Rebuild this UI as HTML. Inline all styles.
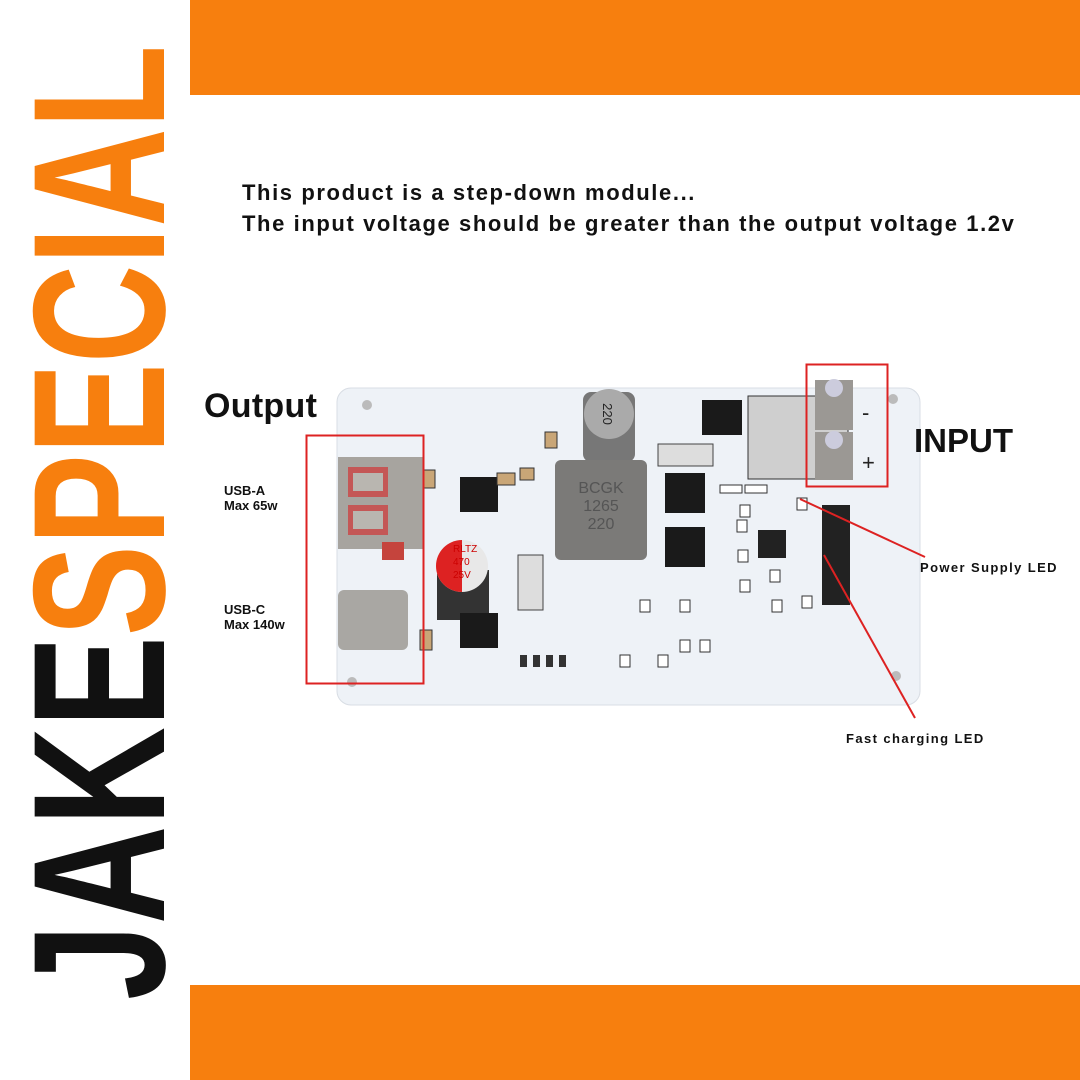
<!DOCTYPE html>
<html><head><style>
body{margin:0}
#c{position:relative;width:1080px;height:1080px;background:#fff;overflow:hidden;font-family:"Liberation Sans",sans-serif}
.a{position:absolute}
.t{font-weight:bold;color:#111;position:absolute;white-space:nowrap}
</style></head><body><div id="c">
<div class="a" style="left:190px;top:0;width:890px;height:95px;background:#f77f0e"></div>
<div class="a" style="left:190px;top:985px;width:890px;height:95px;background:#f77f0e"></div>
<svg class="a" style="left:0;top:0" width="1080" height="1080">
<text transform="translate(164,1000) rotate(-90)" font-family="Liberation Sans" font-weight="bold" font-size="188" textLength="955" lengthAdjust="spacingAndGlyphs"><tspan fill="#111">JAKE</tspan><tspan fill="#f77f0e">SPECIAL</tspan></text>
<rect x="337" y="388" width="583" height="317" rx="14" fill="#eef2f7" stroke="#d8dde4"/>
<circle cx="367" cy="405" r="5" fill="#bbb"/><circle cx="893" cy="399" r="5" fill="#bbb"/><circle cx="352" cy="682" r="5" fill="#bbb"/><circle cx="896" cy="676" r="5" fill="#bbb"/>
<rect x="338" y="457" width="85" height="92" fill="#a7a49f"/>
<rect x="348" y="467" width="40" height="30" fill="#c44" opacity=".8"/><rect x="348" y="505" width="40" height="30" fill="#c44" opacity=".8"/>
<rect x="353" y="473" width="30" height="18" fill="#b9b6b0"/><rect x="353" y="511" width="30" height="18" fill="#b9b6b0"/>
<rect x="382" y="542" width="22" height="18" fill="#c5443d"/>
<rect x="338" y="590" width="70" height="60" rx="6" fill="#a9a7a3"/>
<rect x="583" y="392" width="52" height="70" rx="8" fill="#777"/>
<circle cx="609" cy="414" r="25" fill="#aaa"/>
<text x="609" y="420" font-size="13" text-anchor="middle" fill="#222" transform="rotate(90 609 414)">220</text>
<rect x="437" y="570" width="52" height="50" fill="#333"/>
<circle cx="462" cy="566" r="26" fill="#e8e8e8"/>
<path d="M462 540 A26 26 0 0 0 462 592Z" fill="#d22"/>
<text x="453" y="552" font-size="10" fill="#c00">RLTZ</text><text x="453" y="565" font-size="10" fill="#c00">470</text><text x="453" y="578" font-size="10" fill="#c00">25V</text>
<rect x="555" y="460" width="92" height="100" rx="6" fill="#7b7a78"/>
<text x="601" y="493" font-size="16" text-anchor="middle" fill="#555">BCGK</text>
<text x="601" y="511" font-size="16" text-anchor="middle" fill="#555">1265</text>
<text x="601" y="529" font-size="16" text-anchor="middle" fill="#555">220</text>
<rect x="460" y="477" width="38" height="35" fill="#1a1a1a"/>
<rect x="460" y="613" width="38" height="35" fill="#1a1a1a"/>
<rect x="665" y="473" width="40" height="40" fill="#1a1a1a"/>
<rect x="665" y="527" width="40" height="40" fill="#1a1a1a"/>
<rect x="702" y="400" width="40" height="35" fill="#1a1a1a"/>
<rect x="758" y="530" width="28" height="28" fill="#222"/>
<rect x="748" y="396" width="100" height="83" fill="#cfcfcf" stroke="#333"/>
<rect x="815" y="380" width="38" height="50" fill="#9b9894"/><rect x="815" y="432" width="38" height="48" fill="#9b9894"/>
<circle cx="834" cy="388" r="9" fill="#ccd"/><circle cx="834" cy="440" r="9" fill="#ccd"/>
<text x="862" y="420" font-size="22" fill="#222">-</text><text x="862" y="470" font-size="22" fill="#222">+</text>
<rect x="518" y="555" width="25" height="55" fill="#ddd" stroke="#444"/>
<rect x="658" y="444" width="55" height="22" fill="#ddd" stroke="#444"/>
<rect x="822" y="505" width="28" height="100" fill="#222"/>
<g fill="#333"><rect x="520" y="655" width="7" height="12"/><rect x="533" y="655" width="7" height="12"/><rect x="546" y="655" width="7" height="12"/><rect x="559" y="655" width="7" height="12"/></g>
<g fill="#c9a677" stroke="#333"><rect x="423" y="470" width="12" height="18"/><rect x="420" y="630" width="12" height="20"/><rect x="497" y="473" width="18" height="12"/><rect x="545" y="432" width="12" height="16"/><rect x="520" y="468" width="14" height="12"/></g>
<g fill="#fff" stroke="#333"><rect x="640" y="600" width="10" height="12"/><rect x="680" y="600" width="10" height="12"/><rect x="620" y="655" width="10" height="12"/><rect x="658" y="655" width="10" height="12"/><rect x="700" y="640" width="10" height="12"/><rect x="740" y="580" width="10" height="12"/><rect x="770" y="570" width="10" height="12"/><rect x="772" y="600" width="10" height="12"/><rect x="802" y="596" width="10" height="12"/><rect x="720" y="485" width="22" height="8"/><rect x="745" y="485" width="22" height="8"/><rect x="740" y="505" width="10" height="12"/><rect x="737" y="520" width="10" height="12"/><rect x="797" y="498" width="10" height="12"/><rect x="680" y="640" width="10" height="12"/><rect x="738" y="550" width="10" height="12"/></g>
<rect x="306.5" y="435.5" width="117" height="248" fill="none" stroke="#d22" stroke-width="2"/>
<rect x="806.5" y="364.5" width="81" height="122" fill="none" stroke="#d22" stroke-width="2"/>
<line x1="800" y1="499" x2="925" y2="557" stroke="#d22" stroke-width="2"/>
<line x1="824" y1="555" x2="915" y2="718" stroke="#d22" stroke-width="2"/>
</svg>
<div class="t" style="left:242px;top:177px;font-size:22px;line-height:31px;letter-spacing:1.6px">This product is a step-down module...<br>The input voltage should be greater than the output voltage 1.2v</div>
<div class="t" style="left:204px;top:387px;font-size:34px;letter-spacing:.3px">Output</div>
<div class="t" style="left:914px;top:422px;font-size:33px">INPUT</div>
<div class="t" style="left:224px;top:483px;font-size:13px;line-height:15px">USB-A<br>Max 65w</div>
<div class="t" style="left:224px;top:602px;font-size:13px;line-height:15px">USB-C<br>Max 140w</div>
<div class="t" style="left:920px;top:560px;font-size:13px;letter-spacing:1.4px">Power Supply LED</div>
<div class="t" style="left:846px;top:731px;font-size:13px;letter-spacing:1.4px">Fast charging LED</div>
</div></body></html>
